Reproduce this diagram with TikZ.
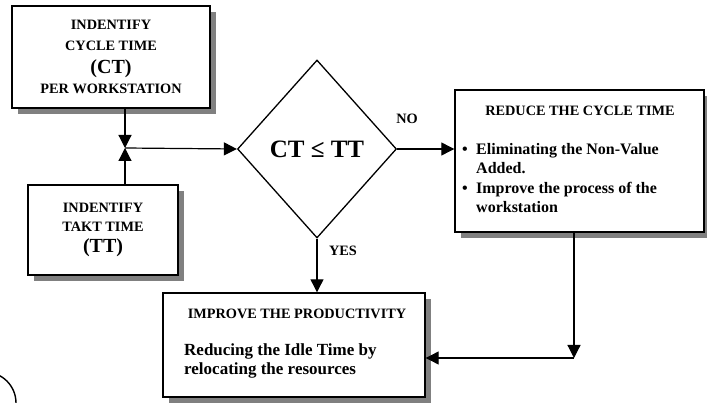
\documentclass[tikz,border=0pt]{standalone}
\usepackage{fontspec}
\setmainfont{Liberation Serif}
\usetikzlibrary{shapes.geometric,shadows,arrows.meta}

\begin{document}
\begin{tikzpicture}[x=1pt,y=-1pt,
  box/.style={draw,rectangle,line width=1.4pt,fill=white,inner sep=0pt,
    drop shadow={shadow xshift=6pt,shadow yshift=-6pt,fill=black!50,opacity=1}},
  arr/.style={line width=1.2pt,-{Triangle[length=13pt,width=13pt]}},
  lbl/.style={font=\bfseries\fontsize{14.3}{17}\selectfont}]
  \clip (0,0) rectangle (707,403);
   \coordinate (Join) at (125,148);
   \coordinate (Turn) at (574,358);
  % boxes on the left
  \node[box,lbl,align=center,minimum width=198pt,minimum height=102pt] (CTbox) at (111,57)
    {INDENTIFY\\[4pt]CYCLE TIME\\[6pt]{\fontsize{20}{22}\selectfont (CT)}\\[3pt]PER WORKSTATION};
  \node[box,lbl,align=center,minimum width=150pt,minimum height=90pt] (TTbox) at (103,230)
    {INDENTIFY\\[2pt]TAKT TIME\\[4pt]{\fontsize{20}{22}\selectfont (TT)}};
  % decision
  \node[draw,diamond,line width=1.3pt,inner sep=0pt,minimum width=159pt,minimum height=178pt,
    font=\bfseries\fontsize{25}{30}\selectfont] (Check) at (317,149) {CT ≤ TT};
  % right box
  \node[box,minimum width=249pt,minimum height=142pt] (Reduce) at (579.5,161) {};
  \node[lbl] (ReduceTitle) at (580,111) {REDUCE THE CYCLE TIME};
  \node[anchor=west,align=left,inner sep=0pt,font=\bfseries\fontsize{16}{19.5}\selectfont] (ReduceList) at (462,178)
    {\makebox[14pt][l]{\textbullet}Eliminating the Non-Value\\\hspace*{14pt}Added.\\
     \makebox[14pt][l]{\textbullet}Improve the process of the\\\hspace*{14pt}workstation};
  % bottom box
  \node[box,minimum width=262pt,minimum height=104pt] (Improve) at (294,345) {};
  \node[lbl] (ImproveTitle) at (297,314) {IMPROVE THE PRODUCTIVITY};
  \node[anchor=west,align=left,inner sep=0pt,font=\bfseries\fontsize{17}{18.5}\selectfont] (ImproveText) at (184,361)
    {Reducing the Idle Time by\\relocating the resources};
  % connectors
  \draw[arr] (CTbox.south -| Join) -- (Join);
  \draw[arr] (TTbox.north -| Join) -- (Join);
  \draw[arr] (Join) -- (Check.west);
  \draw[arr] (Check.east) -- (Check.east -| Reduce.west) ;
  \node[lbl] (No) at (407,119) {NO};
  \draw[arr] (Check.south) -- (Check.south |- Improve.north);
  \node[lbl] (Yes) at (343,251) {YES};
  \draw[arr] (Reduce.south -| Turn) -- (Turn);
  \draw[arr] (Turn) -- (Turn -| Improve.east);
  \draw[line width=1.4pt] (-15,403) circle[radius=31pt];
\end{tikzpicture}
\end{document}
